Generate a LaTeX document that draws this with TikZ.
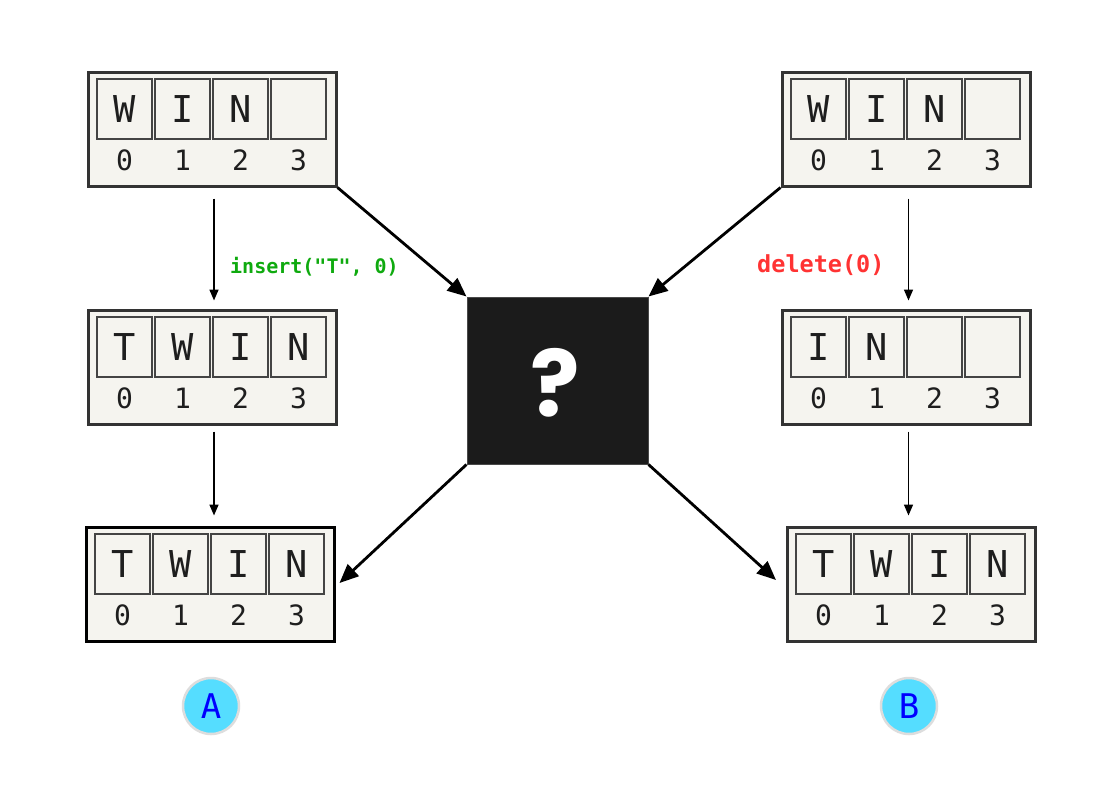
\documentclass[tikz,border=0pt]{standalone}
\usepackage{fontspec}
\setmonofont{DejaVu Sans Mono}
\newfontfamily\qfont{Poppins}
\usetikzlibrary{arrows.meta}
\definecolor{boxfill}{HTML}{F5F4EF}
\definecolor{boxline}{HTML}{333333}
\definecolor{cellline}{HTML}{444444}
\definecolor{inkc}{HTML}{1E1E1E}
\definecolor{insgreen}{HTML}{0FAA0F}
\definecolor{delred}{HTML}{FF3333}
\definecolor{qbox}{HTML}{1B1B1B}
\definecolor{circfill}{HTML}{55DDFF}
\definecolor{circline}{HTML}{DDDDDD}
\tikzset{
  outerbox/.style={draw=boxline, fill=boxfill, line width=3pt, minimum width=248pt, minimum height=114pt, inner sep=0pt},
  outerboxdark/.style={outerbox, draw=black, line width=3pt},
  cell/.style={draw=cellline, line width=2.4pt, minimum width=55pt, minimum height=60pt, inner sep=0pt, font=\ttfamily\fontsize{37}{37}\selectfont, text=inkc},
  digit/.style={inner sep=0pt, font=\ttfamily\fontsize{28}{28}\selectfont, text=inkc},
  thin/.style={draw=black, line width=1.6pt, -{Triangle[length=11pt,width=9pt]}},
  thick/.style={draw=black, line width=2.8pt, -{Triangle[length=19pt,width=16pt]}},
  circ/.style={circle, draw=circline, fill=circfill, line width=2.5pt, minimum size=56pt, inner sep=0pt, text=blue, font=\ttfamily\fontsize{34}{34}\selectfont},
}
\newcommand\arrbox[8]{%
  \node[#8] (#1) at ({#2+124},{#3+57}) {};
  \node[cell] (#1c0) at ({#2+9+27.5},{#3+7+30}) {#4};
  \node[cell] (#1c1) at ({#2+9+58+27.5},{#3+7+30}) {#5};
  \node[cell] (#1c2) at ({#2+9+116+27.5},{#3+7+30}) {#6};
  \node[cell] (#1c3) at ({#2+9+174+27.5},{#3+7+30}) {#7};
  \node[digit] (#1d0) at ({#2+9+27.5},{#3+88}) {0};
  \node[digit] (#1d1) at ({#2+9+58+27.5},{#3+88}) {1};
  \node[digit] (#1d2) at ({#2+9+116+27.5},{#3+88}) {2};
  \node[digit] (#1d3) at ({#2+9+174+27.5},{#3+88}) {3};
}
\begin{document}
\begin{tikzpicture}[x=1pt,y=-1pt]
\useasboundingbox[fill=white] (0,0) rectangle (1114,788);
\arrbox{tl}{88}{72}{W}{I}{N}{}{outerbox}
\arrbox{ml}{88}{310}{T}{W}{I}{N}{outerbox}
\arrbox{bl}{86}{527}{T}{W}{I}{N}{outerboxdark}
\arrbox{tr}{782}{72}{W}{I}{N}{}{outerbox}
\arrbox{mr}{782}{310}{I}{N}{}{}{outerbox}
\arrbox{br}{787}{527}{T}{W}{I}{N}{outerbox}
\node[draw=qbox!80!white, fill=qbox, line width=1pt, minimum width=181pt, minimum height=167pt, inner sep=0pt] (q) at (557.5,380.5) {};
\node[text=white, font=\qfont\bfseries\fontsize{92}{92}\selectfont, inner sep=0pt] (qm) at (555,383) {?};
\draw[thin, shorten <=11pt, shorten >=8pt] ([xshift=2pt]tl.south) -- ([xshift=2pt]ml.north);
\draw[thin, shorten <=6pt, shorten >=10pt] ([xshift=2pt]ml.south) -- ([xshift=2pt]ml.south |- bl.north);
\draw[thin, shorten <=11pt, shorten >=8pt] ([xshift=2.5pt]tr.south) -- ([xshift=2.5pt]mr.north);
\draw[thin, shorten <=6pt, shorten >=10pt] ([xshift=2.5pt]mr.south) -- ([xshift=2.5pt]mr.south |- br.north);
\node[text=insgreen, font=\ttfamily\bfseries\fontsize{20}{20}\selectfont, anchor=west, inner sep=0pt] (ins) at (230,267) {insert("T", 0)};
\node[text=delred, font=\ttfamily\bfseries\fontsize{23.5}{23.5}\selectfont, anchor=west, inner sep=0pt] (del) at (757,265) {delete(0)};
\draw[thick] (tl.south east) -- (q.north west);
\draw[thick] (tr.south west) -- (q.north east);
\draw[thick] (q.south west) -- ([xshift=4pt,yshift=-3pt]bl.north east |- 0,580);
\draw[thick] (q.south east) -- (776,580);
\node[circ] (a) at (211,706) {A};
\node[circ] (b) at (909,706) {B};
\end{tikzpicture}
\end{document}
